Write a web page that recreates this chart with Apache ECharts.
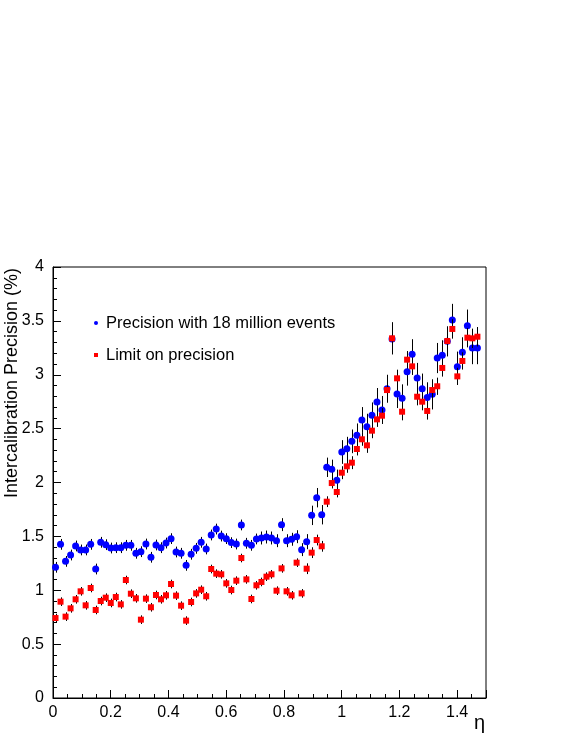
<!DOCTYPE html>
<html>
<head>
<meta charset="utf-8">
<script src="https://cdn.jsdelivr.net/npm/echarts@6/dist/echarts.min.js"></script>
<style>html,body{margin:0;padding:0;background:#fff;}#c{width:581px;height:752px;}</style>
</head>
<body>
<div id="c"></div>
<script>
// bin width in eta (crystal size), 85 bins
const binWidth = 0.0174;
const nBins = 85;
const xTicks = [0, 0.2, 0.4, 0.6, 0.8, 1, 1.2, 1.4];
const yTicks = [0, 0.5, 1, 1.5, 2, 2.5, 3, 3.5, 4];
const seriesNames = ['Precision with 18 million events', 'Limit on precision'];

const blueVals = [
1.213,1.426,1.268,1.327,1.411,1.374,1.374,1.426,1.197,1.445,
1.423,1.392,1.395,1.395,1.417,1.417,1.343,1.358,1.429,1.306,
1.420,1.395,1.438,1.479,1.355,1.343,1.231,1.334,1.389,1.445,
1.383,1.513,1.568,1.503,1.479,1.442,1.429,1.606,1.436,1.417,
1.476,1.485,1.494,1.485,1.460,1.609,1.460,1.473,1.497,1.377,
1.451,1.695,1.859,1.701,2.141,2.122,2.020,2.283,2.314,2.382,
2.438,2.580,2.518,2.623,2.747,2.673,2.870,3.332,2.821,2.781,
3.029,3.190,2.970,2.871,2.790,2.818,3.155,3.180,3.310,3.508,
3.075,3.208,3.455,3.248,3.248];

const blueErr = [
0.05,0.05,0.05,0.05,0.05,0.05,0.05,0.05,0.05,0.05,
0.05,0.05,0.05,0.05,0.05,0.05,0.05,0.05,0.05,0.05,
0.05,0.05,0.05,0.05,0.05,0.05,0.05,0.05,0.05,0.05,
0.05,0.05,0.05,0.05,0.05,0.05,0.05,0.05,0.05,0.05,
0.05,0.06,0.06,0.06,0.06,0.06,0.06,0.06,0.06,0.06,
0.07,0.09,0.09,0.09,0.09,0.09,0.10,0.11,0.11,0.11,
0.11,0.12,0.12,0.12,0.13,0.13,0.13,0.13,0.13,0.13,
0.13,0.14,0.14,0.14,0.14,0.14,0.14,0.14,0.14,0.15,
0.14,0.14,0.15,0.15,0.15];

const redVals = [
0.742,0.894,0.755,0.832,0.916,0.990,0.860,1.021,0.817,0.900,
0.931,0.882,0.937,0.869,1.095,0.968,0.925,0.727,0.922,0.842,
0.956,0.916,0.953,1.058,0.950,0.857,0.718,0.891,0.971,1.005,
0.944,1.197,1.154,1.148,1.064,1.002,1.089,1.299,1.101,0.919,
1.046,1.077,1.126,1.148,0.996,1.203,0.990,0.953,1.256,0.971,
1.200,1.349,1.466,1.408,1.822,1.995,1.912,2.091,2.150,2.184,
2.311,2.401,2.345,2.481,2.586,2.620,2.858,3.338,2.967,2.657,
3.140,3.078,2.796,2.750,2.664,2.858,2.893,3.063,3.313,3.425,
2.985,3.128,3.344,3.338,3.353];

const redErr = [
0.04,0.04,0.04,0.04,0.04,0.04,0.04,0.04,0.04,0.04,
0.04,0.04,0.04,0.04,0.04,0.04,0.04,0.04,0.04,0.04,
0.04,0.04,0.04,0.04,0.04,0.04,0.04,0.04,0.04,0.04,
0.04,0.04,0.04,0.04,0.04,0.04,0.04,0.04,0.04,0.04,
0.04,0.04,0.04,0.04,0.04,0.04,0.04,0.04,0.04,0.04,
0.05,0.05,0.05,0.05,0.05,0.05,0.05,0.06,0.06,0.06,
0.06,0.06,0.07,0.07,0.07,0.07,0.07,0.15,0.08,0.08,
0.08,0.08,0.08,0.08,0.08,0.08,0.08,0.08,0.08,0.09,
0.08,0.08,0.09,0.09,0.09];

const etaCenters = [];
for (let i = 0; i < nBins; i++) etaCenters.push(+((i + 0.5) * binWidth).toFixed(4));

const FONT = '"Liberation Sans", Arial, Helvetica, sans-serif';

function pts(vals) { return vals.map((v, i) => [etaCenters[i], v]); }
function errs(vals, e) { return vals.map((v, i) => [etaCenters[i], v, e[i]]); }

function errRender(params, api) {
  const x = api.value(0), y = api.value(1), e = api.value(2);
  const p1 = api.coord([x, y - e]);
  const p2 = api.coord([x, y + e]);
  return {
    type: 'line',
    shape: { x1: Math.round(p1[0]) + 0.5, y1: p1[1], x2: Math.round(p2[0]) + 0.5, y2: p2[1] },
    style: { stroke: '#000', lineWidth: 1 }
  };
}

const chart = echarts.init(document.getElementById('c'), null, { renderer: 'canvas' });
chart.setOption({
  animation: false,
  backgroundColor: '#fff',
  grid: { left: 53, top: 267, right: 95, bottom: 54, show: true, borderColor: '#000', borderWidth: 1, backgroundColor: 'transparent' },
  legend: {
    data: [{ name: seriesNames[0], icon: 'circle' }, { name: seriesNames[1], icon: 'rect' }],
    orient: 'vertical', left: 94, top: 314, padding: 0, itemWidth: 4, itemHeight: 4, itemGap: 14,
    textStyle: { fontFamily: FONT, fontSize: 16.5, color: '#000', lineHeight: 18, padding: [0, 0, 0, 3] }
  },
  xAxis: {
    type: 'value', min: 0, max: 1.5, interval: 0.2,
    axisLine: { show: true, onZero: false, lineStyle: { color: '#000', width: 1 } },
    axisTick: { show: true, inside: true, length: 8, lineStyle: { color: '#000' } },
    minorTick: { show: true, splitNumber: 4, length: 4, lineStyle: { color: '#000' } },
    splitLine: { show: false },
    axisLabel: { fontFamily: FONT, fontSize: 16, color: '#000', margin: 7, showMaxLabel: false,
      formatter: v => (xTicks.some(t => Math.abs(t - v) < 1e-9) ? String(+v.toFixed(1)) : '') }
  },
  yAxis: {
    type: 'value', min: 0, max: 4, interval: 0.5,
    axisLine: { show: true, onZero: false, lineStyle: { color: '#000', width: 1 } },
    axisTick: { show: true, inside: true, length: 8, lineStyle: { color: '#000' } },
    minorTick: { show: true, splitNumber: 5, length: 4, lineStyle: { color: '#000' } },
    splitLine: { show: false },
    axisLabel: { fontFamily: FONT, fontSize: 16, color: '#000', margin: 9,
      formatter: v => (yTicks.some(t => Math.abs(t - v) < 1e-9) ? String(v) : '') }
  },
  graphic: [
    { type: 'text', x: 12, y: 383, rotation: Math.PI / 2,
      style: { text: 'Intercalibration Precision (%)', font: '18px ' + FONT, fill: '#000', textAlign: 'center', textVerticalAlign: 'middle' } },
    { type: 'text', x: 485, y: 723,
      style: { text: 'η', font: '20px ' + FONT, fill: '#000', textAlign: 'right', textVerticalAlign: 'middle' } }
  ],
  series: [
    { type: 'custom', name: 'blueErr', renderItem: errRender, data: errs(blueVals, blueErr), z: 2, silent: true },
    { type: 'scatter', name: seriesNames[0], data: pts(blueVals), symbol: 'circle', symbolSize: 7,
      itemStyle: { color: '#0000ff', opacity: 1 }, z: 3 },
    { type: 'custom', name: 'redErr', renderItem: errRender, data: errs(redVals, redErr), z: 4, silent: true },
    { type: 'scatter', name: seriesNames[1], data: pts(redVals), symbol: 'rect', symbolSize: 6,
      itemStyle: { color: '#ff0000', opacity: 1 }, z: 5 }
  ]
});
</script>
</body>
</html>
